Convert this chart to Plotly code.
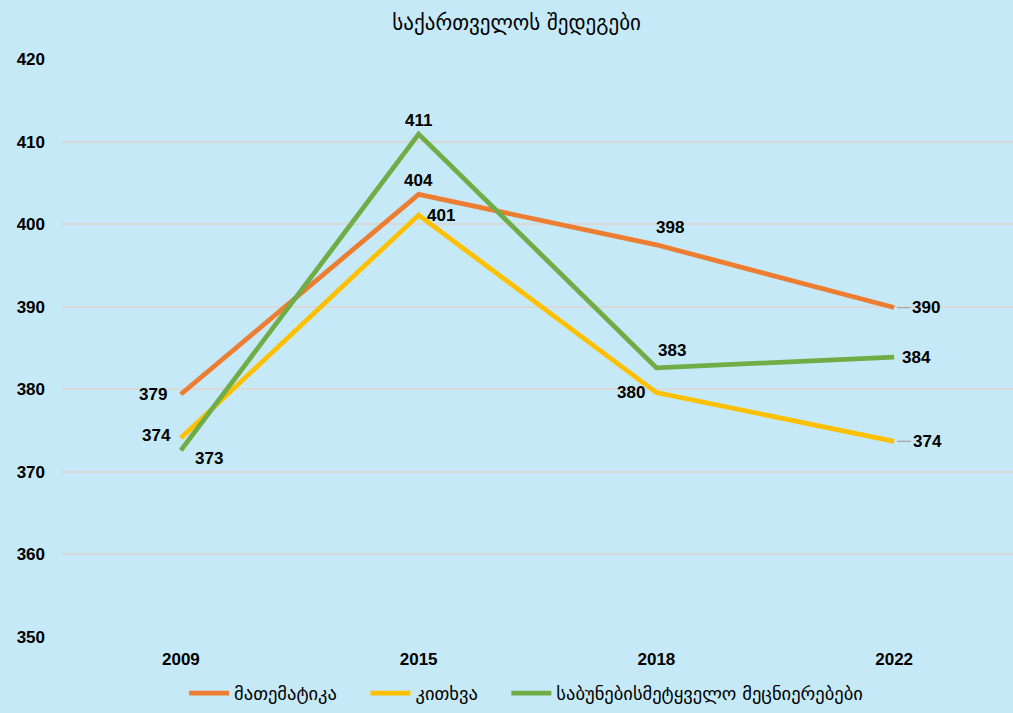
import plotly.graph_objects as go

years = ["2009", "2015", "2018", "2022"]
series_names = ["მათემატიკა", "კითხვა", "საბუნებისმეტყველო მეცნიერებები"]
math_vals = [379.4, 403.6, 397.5, 389.9]
reading_vals = [374.1, 401.1, 379.6, 373.7]
science_vals = [372.6, 410.9, 382.6, 383.9]
title_text = "საქართველოს შედეგები"
y_ticks = [350, 360, 370, 380, 390, 400, 410, 420]

colors = ["#ED7D31", "#FFC000", "#70AD47"]
all_vals = [math_vals, reading_vals, science_vals]
# label offsets (px) per series per point, and whether a leader line is drawn
offsets = [
    [(-28, 0), (0, 14), (14, 17), (32, 0)],
    [(-24, 3), (22, 0), (-25, 0), (33, 0)],
    [(28, -8), (0, 14), (16, 17), (22, 0)],
]
leaders = [
    [False, False, False, True],
    [False, False, False, True],
    [False, False, False, False],
]

fig = go.Figure()
for k, (name, vals, col) in enumerate(zip(series_names, all_vals, colors)):
    pad = "\u00a0" * 4 if k < len(series_names) - 1 else ""
    fig.add_trace(go.Scatter(
        x=years, y=vals, name=name + pad, mode="lines",
        line=dict(color=col, width=4.8),
        hoverinfo="x+y",
    ))

lab_font = dict(family="Liberation Sans, Arial", size=17, color="#000000", weight="bold")
annotations = []
for vals, offs, leads in zip(all_vals, offsets, leaders):
    for i, (v, (dx, dy), lead) in enumerate(zip(vals, offs, leads)):
        if lead:
            annotations.append(dict(
                x=i, y=v, xref="x", yref="y", text=str(round(v)),
                showarrow=True, ax=dx, ay=-dy, arrowhead=0, arrowwidth=1.2,
                arrowcolor="#A6A6A6", standoff=3, font=lab_font,
            ))
        else:
            annotations.append(dict(
                x=i, y=v, xref="x", yref="y", text=str(round(v)),
                showarrow=False, xshift=dx, yshift=dy, font=lab_font,
            ))

fig.update_layout(
    width=1013, height=713,
    paper_bgcolor="#C5E9F7", plot_bgcolor="#C5E9F7",
    margin=dict(l=62, r=0, t=59, b=73),
    title=dict(text=title_text, x=0.51, xanchor="center", y=0.968, yanchor="middle",
               font=dict(family="DejaVu Sans", size=21, color="#000000")),
    showlegend=True,
    legend=dict(orientation="h", x=0.488, xanchor="center", y=-0.098, yanchor="middle",
                font=dict(family="DejaVu Sans", size=18.5, color="#000000"),
                bgcolor="rgba(0,0,0,0)", itemwidth=40),
    annotations=annotations,
    xaxis=dict(type="category", range=[-0.5, 3.5], autorange=False, showgrid=False,
               zeroline=False, showline=False, ticks="",
               tickfont=dict(family="Liberation Sans, Arial", size=17, color="#000000", weight="bold"),
               ticklabelstandoff=10),
    yaxis=dict(range=[350, 420], autorange=False, tickvals=y_ticks, showgrid=True,
               gridcolor="#D9D9D9", gridwidth=1.5,
               zeroline=False, showline=False, ticks="",
               tickfont=dict(family="Liberation Sans, Arial", size=17, color="#000000", weight="bold"),
               ticklabelstandoff=16),
)

fig.write_html("out.html", config={"displayModeBar": False},
               post_script="document.body.style.margin='0';")
